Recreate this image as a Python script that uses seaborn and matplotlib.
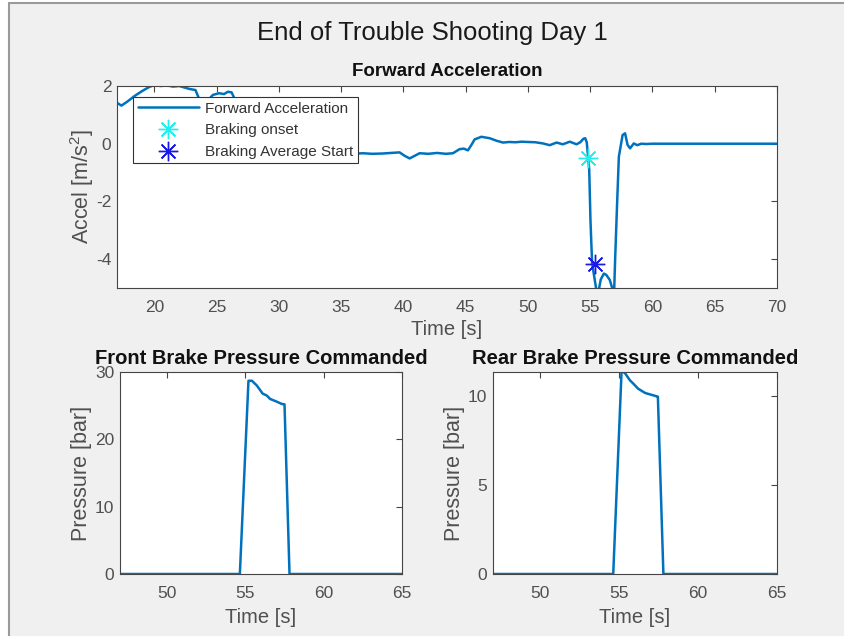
import matplotlib
matplotlib.use("Agg")
import matplotlib.pyplot as plt
import seaborn as sns
import pandas as pd
from matplotlib.patches import Rectangle
from matplotlib.lines import Line2D

# ---------------- data ----------------
time_acc = [17.0, 17.35, 17.8, 18.4, 19.0, 19.6, 20.0, 20.5, 21.0, 21.5, 22.0, 22.4, 22.8,
            23.3, 23.6, 23.9, 24.2, 24.5, 24.7, 25.2, 25.6, 25.9, 26.2, 26.4, 26.7, 27.2,
            28.0, 29.0, 30.0, 31.0, 32.0, 33.0, 34.0, 35.0, 36.0, 36.74, 37.5, 38.3, 39.0,
            39.69, 40.1, 40.5, 40.9, 41.3, 42.0, 42.7, 43.4, 43.98, 44.5, 44.85, 45.18,
            45.45, 45.72, 46.26, 46.93, 47.5, 48.0, 48.5, 49.0, 49.5, 50.0, 50.6, 51.2,
            51.75, 52.3, 52.8, 53.36, 53.9, 54.2, 54.45, 54.6, 54.72, 54.83, 54.92, 55.02,
            55.15, 55.45, 55.6, 55.72, 55.85, 56.1, 56.3, 56.57, 56.8, 56.92, 57.0, 57.16,
            57.3, 57.6, 57.8, 58.0, 58.2, 58.5, 58.77, 59.1, 59.5, 60.0, 62.0, 64.0, 66.0,
            68.0, 70.0]
accel = [1.42, 1.32, 1.45, 1.65, 1.82, 1.97, 2.03, 2.0, 2.02, 1.98, 2.0, 1.95, 1.9,
         1.86, 1.55, 1.2, 1.3, 1.6, 1.69, 1.75, 1.72, 1.8, 1.78, 1.6, 1.0, 0.5,
         0.1, -0.2, -0.3, -0.25, -0.35, -0.3, -0.4, -0.3, -0.35, -0.33, -0.35, -0.34, -0.32,
         -0.3, -0.42, -0.51, -0.42, -0.33, -0.35, -0.32, -0.35, -0.33, -0.19, -0.17, -0.23,
         -0.05, 0.15, 0.24, 0.19, 0.1, 0.04, 0.06, 0.05, 0.07, 0.06, 0.05, 0.01,
         -0.05, 0.04, -0.02, 0.07, -0.02, 0.05, 0.17, 0.19, 0.05, -0.45, -0.9, -2.64,
         -4.13, -4.95, -5.3, -5.0, -4.7, -4.5, -4.55, -4.72, -5.05, -5.15, -4.03, -2.07,
         -0.45, 0.3, 0.36, -0.04, -0.16, 0.01, -0.05, 0.0, -0.01, 0.0, 0.0, 0.0, 0.0,
         0.0, 0.0]
onset_time = [54.83]
onset_accel = [-0.5]
avg_start_time = [55.37]
avg_start_accel = [-4.17]

time_front = [40.0, 54.65, 55.2, 55.42, 55.73, 55.95, 56.1, 56.37, 56.58, 57.0, 57.33, 57.5, 57.82, 70.0]
front_pressure = [0.0, 0.0, 28.7, 28.7, 28.0, 27.3, 26.8, 26.5, 26.0, 25.6, 25.25, 25.2, 0.0, 0.0]
time_rear = [40.0, 54.62, 55.15, 55.37, 55.68, 55.9, 56.2, 56.64, 56.95, 57.38, 57.45, 57.8, 70.0]
rear_pressure = [0.0, 0.0, 11.45, 11.3, 10.9, 10.71, 10.43, 10.19, 10.11, 10.0, 9.98, 0.0, 0.0]

top_xticks = [20, 25, 30, 35, 40, 45, 50, 55, 60, 65, 70]
top_yticks = [-4, -2, 0, 2]
bottom_xticks = [50, 55, 60, 65]
front_yticks = [0, 10, 20, 30]
rear_yticks = [0, 5, 10]

# ---------------- style ----------------
sns.set_style("white")
plt.rcParams["font.family"] = ["Liberation Sans", "DejaVu Sans"]
plt.rcParams["mathtext.fontset"] = "custom"
plt.rcParams["mathtext.rm"] = "Liberation Sans"
plt.rcParams["axes.unicode_minus"] = False

LINE = "#0072BD"
AX = "#454545"
TXT = "#505050"
W, H = 844, 636

fig = plt.figure(figsize=(W / 100, H / 100), dpi=100, facecolor="#f0f0f0")
# white margin strips (left and top) with a gray frame line
fig.patches.append(Rectangle((0, 0), 9 / W, 1, transform=fig.transFigure,
                             facecolor="white", edgecolor="none", zorder=-10))
fig.patches.append(Rectangle((0, 1 - 3 / H), 1, 3 / H, transform=fig.transFigure,
                             facecolor="white", edgecolor="none", zorder=-10))
fig.lines.append(Line2D([9 / W, 9 / W], [0, 1 - 3 / H], transform=fig.transFigure,
                        color="#9a9a9a", linewidth=1.5))
fig.lines.append(Line2D([9 / W, 1], [1 - 3 / H, 1 - 3 / H], transform=fig.transFigure,
                        color="#9a9a9a", linewidth=1.5))


def axrect(l, t, r, b):
    return [l / W, 1 - b / H, (r - l) / W, (b - t) / H]


ax1 = fig.add_axes(axrect(117, 86, 777, 288))
ax2 = fig.add_axes(axrect(120, 372, 402, 574))
ax3 = fig.add_axes(axrect(493, 372, 777, 574))


def style(ax):
    ax.set_facecolor("white")
    for s in ax.spines.values():
        s.set_visible(True)
        s.set_color(AX)
        s.set_linewidth(0.8)
    ax.tick_params(direction="in", top=True, right=True, length=4, width=0.8,
                   colors=AX, labelsize=12.5, labelcolor=TXT)
    ax.tick_params(axis="x", pad=9)
    ax.tick_params(axis="y", pad=4)


df_acc = pd.DataFrame({"t": time_acc, "a": accel})
sns.lineplot(data=df_acc, x="t", y="a", ax=ax1, color=LINE, linewidth=1.8, sort=False,
             estimator=None, label="Forward Acceleration")
ax1.plot(onset_time, onset_accel, linestyle="none", marker=(8, 2, 0), markersize=14,
         markeredgewidth=1.0, color="#22eeee", label="Braking onset")
ax1.plot(avg_start_time, avg_start_accel, linestyle="none", marker=(8, 2, 0), markersize=14,
         markeredgewidth=1.0, color="#1a1ae6", label="Braking Average Start")
ax1.set_xlim(17, 70)
ax1.set_ylim(-5, 2)
ax1.set_xticks(top_xticks)
ax1.set_yticks(top_yticks)
style(ax1)
ax1.set_title("Forward Acceleration", fontsize=13.5, fontweight="bold", color="#111111", pad=7)
ax1.set_xlabel("Time [s]", fontsize=14.5, color=TXT, labelpad=3)
ax1.set_ylabel(r"Accel [m/s$^{\mathregular{2}}$]", fontsize=15.5, color=TXT, labelpad=0)
leg = ax1.legend(loc="upper left", bbox_to_anchor=(16 / 660, 1 - 11 / 202), fontsize=11,
                 frameon=True, fancybox=False, framealpha=1, edgecolor="#333333",
                 handlelength=4.0, handletextpad=0.4, labelspacing=0.5, borderpad=0.3,
                 borderaxespad=0)
leg.get_frame().set_linewidth(0.8)
for txt in leg.get_texts():
    txt.set_color("#333333")

df_front = pd.DataFrame({"t": time_front, "p": front_pressure})
sns.lineplot(data=df_front, x="t", y="p", ax=ax2, color=LINE, linewidth=1.8, sort=False,
             estimator=None)
ax2.set_xlim(47, 65)
ax2.set_ylim(0, 30)
ax2.set_xticks(bottom_xticks)
ax2.set_yticks(front_yticks)
style(ax2)
ax2.set_title("Front Brake Pressure Commanded", fontsize=14.5, fontweight="bold", color="#111111", pad=6)
ax2.set_xlabel("Time [s]", fontsize=14.5, color=TXT, labelpad=5)
ax2.set_ylabel("Pressure [bar]", fontsize=15.5, color=TXT, labelpad=2)

df_rear = pd.DataFrame({"t": time_rear, "p": rear_pressure})
sns.lineplot(data=df_rear, x="t", y="p", ax=ax3, color=LINE, linewidth=1.8, sort=False,
             estimator=None)
ax3.set_xlim(47, 65)
ax3.set_ylim(0, 11.37)
ax3.set_xticks(bottom_xticks)
ax3.set_yticks(rear_yticks)
style(ax3)
ax3.set_title("Rear Brake Pressure Commanded", fontsize=14.5, fontweight="bold", color="#111111", pad=6)
ax3.set_xlabel("Time [s]", fontsize=14.5, color=TXT, labelpad=5)
ax3.set_ylabel("Pressure [bar]", fontsize=15.5, color=TXT, labelpad=2)

fig.text(432 / W, 1 - 33 / H, "End of Trouble Shooting Day 1", ha="center", va="center",
         fontsize=18.5, color="#1a1a1a")

fig.savefig("out.png", dpi=100, facecolor=fig.get_facecolor())
